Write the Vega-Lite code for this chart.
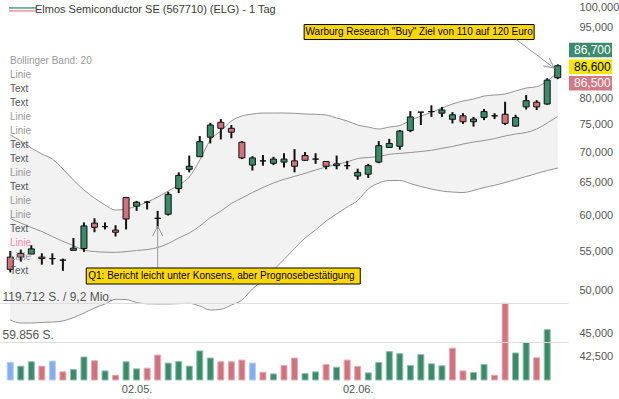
{
  "$schema": "https://vega.github.io/schema/vega-lite/v6.json",
  "width": 568,
  "height": 380,
  "autosize": {"type": "none"},
  "padding": {"left": 0, "top": 0, "right": 51, "bottom": 19},
  "background": "white",
  "config": {
    "font": "Liberation Sans",
    "view": {"stroke": null},
    "locale": {"number": {"decimal": ",", "thousands": ".", "grouping": [3], "currency": ["", " €"]}}
  },
  "title": {
    "text": "Elmos Semiconductor SE (567710) (ELG) - 1 Tag",
    "anchor": "start",
    "frame": "group",
    "offset": -15,
    "dx": 35,
    "fontSize": 11,
    "fontWeight": "normal",
    "color": "#3a3a3a"
  },
  "datasets": {
    "ohlc": [
      {"i":0,"o":54.2,"h":55.0,"l":52.2,"c":52.6,"v":27400,"t":"flat","bbU":73.09,"bbM":59.57,"bbL":46.46},
      {"i":1,"o":54.7,"h":55.2,"l":53.6,"c":54.2,"v":21600,"t":"up","bbU":72.02,"bbM":58.92,"bbL":46.12},
      {"i":2,"o":54.6,"h":55.8,"l":54.6,"c":55.3,"v":28500,"t":"up","bbU":70.80,"bbM":58.27,"bbL":46.12},
      {"i":3,"o":54.2,"h":54.7,"l":53.2,"c":54.0,"v":21600,"t":"down","bbU":69.76,"bbM":57.70,"bbL":46.18},
      {"i":4,"o":54.0,"h":54.7,"l":53.2,"c":54.0,"v":29500,"t":"flat","bbU":68.91,"bbM":57.00,"bbL":46.23},
      {"i":5,"o":53.8,"h":54.0,"l":52.4,"c":53.8,"v":12700,"t":"down","bbU":67.25,"bbM":56.33,"bbL":46.35},
      {"i":6,"o":55.1,"h":56.8,"l":55.1,"c":55.4,"v":16300,"t":"up","bbU":65.46,"bbM":55.75,"bbL":46.74},
      {"i":7,"o":55.35,"h":59.0,"l":54.9,"c":58.5,"v":35900,"t":"up","bbU":63.87,"bbM":55.14,"bbL":47.26},
      {"i":8,"o":58.9,"h":59.6,"l":57.6,"c":58.3,"v":30100,"t":"down","bbU":62.63,"bbM":54.94,"bbL":47.85},
      {"i":9,"o":58.4,"h":59.0,"l":58.0,"c":58.4,"v":14200,"t":"up","bbU":61.57,"bbM":54.85,"bbL":48.32},
      {"i":10,"o":57.9,"h":58.6,"l":57.0,"c":57.6,"v":7400,"t":"down","bbU":60.82,"bbM":54.83,"bbL":48.88},
      {"i":11,"o":62.7,"h":62.8,"l":58.0,"c":59.5,"v":28500,"t":"up","bbU":60.97,"bbM":54.93,"bbL":48.85},
      {"i":12,"o":61.4,"h":62.2,"l":60.7,"c":62.0,"v":17400,"t":"up","bbU":61.42,"bbM":55.08,"bbL":48.49},
      {"i":13,"o":62.0,"h":62.2,"l":60.9,"c":62.0,"v":18500,"t":"down","bbU":62.02,"bbM":55.21,"bbL":48.34},
      {"i":14,"o":59.6,"h":60.7,"l":58.1,"c":59.6,"v":39000,"t":"down","bbU":62.79,"bbM":55.48,"bbL":48.32},
      {"i":15,"o":60.2,"h":63.6,"l":60.0,"c":63.2,"v":26400,"t":"up","bbU":63.72,"bbM":56.03,"bbL":48.32},
      {"i":16,"o":64.1,"h":66.7,"l":63.4,"c":66.2,"v":29000,"t":"up","bbU":64.66,"bbM":56.79,"bbL":48.36},
      {"i":17,"o":67.2,"h":69.5,"l":66.7,"c":67.7,"v":21600,"t":"up","bbU":65.94,"bbM":57.49,"bbL":48.40},
      {"i":18,"o":69.3,"h":72.9,"l":69.3,"c":71.9,"v":45400,"t":"up","bbU":68.75,"bbM":58.48,"bbL":48.08},
      {"i":19,"o":72.7,"h":75.3,"l":71.6,"c":74.9,"v":34300,"t":"up","bbU":72.20,"bbM":59.72,"bbL":47.61},
      {"i":20,"o":75.4,"h":76.0,"l":72.3,"c":74.3,"v":28500,"t":"down","bbU":73.81,"bbM":60.67,"bbL":47.69},
      {"i":21,"o":74.3,"h":74.9,"l":72.5,"c":73.6,"v":28500,"t":"down","bbU":75.64,"bbM":61.80,"bbL":48.20},
      {"i":22,"o":71.8,"h":72.0,"l":68.9,"c":69.1,"v":31100,"t":"down","bbU":76.57,"bbM":62.63,"bbL":48.79},
      {"i":23,"o":67.9,"h":69.4,"l":67.0,"c":69.1,"v":26400,"t":"flat","bbU":76.94,"bbM":63.48,"bbL":50.13},
      {"i":24,"o":68.6,"h":69.6,"l":67.8,"c":68.6,"v":12100,"t":"down","bbU":77.13,"bbM":64.27,"bbL":51.24},
      {"i":25,"o":68.2,"h":69.3,"l":67.9,"c":68.9,"v":9500,"t":"up","bbU":77.13,"bbM":64.98,"bbL":52.51},
      {"i":26,"o":68.4,"h":69.9,"l":67.5,"c":68.9,"v":22700,"t":"down","bbU":77.13,"bbM":65.57,"bbL":53.88},
      {"i":27,"o":68.6,"h":70.6,"l":66.7,"c":67.7,"v":34300,"t":"down","bbU":77.08,"bbM":66.05,"bbL":55.35},
      {"i":28,"o":69.5,"h":70.1,"l":68.6,"c":68.7,"v":10000,"t":"up","bbU":76.94,"bbM":66.54,"bbL":56.79},
      {"i":29,"o":68.9,"h":69.9,"l":68.1,"c":68.9,"v":12700,"t":"up","bbU":76.89,"bbM":67.08,"bbL":57.92},
      {"i":30,"o":68.5,"h":68.5,"l":67.2,"c":67.7,"v":24300,"t":"down","bbU":76.76,"bbM":67.58,"bbL":59.21},
      {"i":31,"o":67.8,"h":69.5,"l":67.2,"c":68.1,"v":20000,"t":"up","bbU":76.19,"bbM":68.02,"bbL":60.23},
      {"i":32,"o":67.8,"h":68.6,"l":67.2,"c":67.8,"v":31100,"t":"down","bbU":75.64,"bbM":68.41,"bbL":61.27},
      {"i":33,"o":66.1,"h":67.3,"l":65.5,"c":66.7,"v":21100,"t":"down","bbU":74.90,"bbM":69.00,"bbL":62.25},
      {"i":34,"o":66.4,"h":68.1,"l":65.8,"c":67.8,"v":11100,"t":"up","bbU":74.53,"bbM":69.17,"bbL":64.03},
      {"i":35,"o":68.4,"h":72.0,"l":68.2,"c":71.2,"v":27400,"t":"up","bbU":74.17,"bbM":69.34,"bbL":64.98},
      {"i":36,"o":70.9,"h":72.4,"l":70.8,"c":71.6,"v":44300,"t":"up","bbU":74.53,"bbM":69.71,"bbL":65.38},
      {"i":37,"o":71.1,"h":74.0,"l":70.5,"c":73.8,"v":41100,"t":"up","bbU":74.81,"bbM":69.87,"bbL":65.38},
      {"i":38,"o":73.9,"h":77.5,"l":73.6,"c":76.4,"v":22700,"t":"up","bbU":75.73,"bbM":70.02,"bbL":64.90},
      {"i":39,"o":77.3,"h":77.3,"l":74.9,"c":77.3,"v":39600,"t":"up","bbU":76.57,"bbM":70.19,"bbL":64.42},
      {"i":40,"o":77.4,"h":78.6,"l":76.4,"c":77.4,"v":25300,"t":"up","bbU":77.23,"bbM":70.40,"bbL":64.03},
      {"i":41,"o":77.1,"h":78.3,"l":76.4,"c":77.7,"v":22200,"t":"up","bbU":78.08,"bbM":70.74,"bbL":63.72},
      {"i":42,"o":75.95,"h":77.3,"l":75.2,"c":76.8,"v":49600,"t":"down","bbU":78.85,"bbM":71.06,"bbL":63.56},
      {"i":43,"o":76.6,"h":77.1,"l":75.1,"c":75.5,"v":14200,"t":"down","bbU":79.43,"bbM":71.49,"bbL":63.48},
      {"i":44,"o":75.5,"h":76.4,"l":74.6,"c":76.0,"v":11600,"t":"up","bbU":79.82,"bbM":71.84,"bbL":63.80},
      {"i":45,"o":76.3,"h":77.9,"l":75.8,"c":77.4,"v":24300,"t":"up","bbU":80.41,"bbM":72.11,"bbL":64.27},
      {"i":46,"o":76.6,"h":77.1,"l":76.0,"c":76.6,"v":7400,"t":"down","bbU":80.61,"bbM":72.45,"bbL":64.61},
      {"i":47,"o":76.9,"h":79.3,"l":74.9,"c":75.2,"v":119712,"t":"down","bbU":80.81,"bbM":72.91,"bbL":65.06},
      {"i":48,"o":74.7,"h":76.8,"l":74.6,"c":76.3,"v":42200,"t":"up","bbU":81.40,"bbM":73.27,"bbL":65.54},
      {"i":49,"o":78.3,"h":80.6,"l":77.8,"c":79.5,"v":58500,"t":"up","bbU":82.00,"bbM":73.54,"bbL":66.02},
      {"i":50,"o":79.2,"h":79.6,"l":77.7,"c":78.3,"v":34800,"t":"down","bbU":82.27,"bbM":74.17,"bbL":66.51},
      {"i":51,"o":78.85,"h":84.0,"l":78.7,"c":83.6,"v":78600,"t":"up","bbU":83.42,"bbM":75.27,"bbL":67.00},
      {"i":52,"o":84.1,"h":86.9,"l":83.8,"c":86.6,"bbU":85.28,"bbM":76.48,"bbL":67.41}
    ],
    "notes": [
      {"k":"w","i":52,"p":86.9,"txt":"Warburg Research \"Buy\" Ziel von 110 auf 120 Euro"},
      {"k":"q","i":14,"p":58.1,"txt":"Q1: Bericht leicht unter Konsens, aber Prognosebestätigung"}
    ],
    "quotes": [
      {"q":"Ask","v":86.7},
      {"q":"Last","v":86.6},
      {"q":"Bid","v":86.5}
    ],
    "legend": [
      {"slot":0,"kind":"head","txt":"Bollinger Band: 20"},
      {"slot":1,"kind":"line","txt":"Linie"},
      {"slot":2,"kind":"text","txt":"Text"},
      {"slot":3,"kind":"text","txt":"Text"},
      {"slot":4,"kind":"line","txt":"Linie"},
      {"slot":5,"kind":"line","txt":"Linie"},
      {"slot":6,"kind":"text","txt":"Text"},
      {"slot":7,"kind":"text","txt":"Text"},
      {"slot":8,"kind":"line","txt":"Linie"},
      {"slot":9,"kind":"text","txt":"Text"},
      {"slot":10,"kind":"line","txt":"Linie"},
      {"slot":11,"kind":"line","txt":"Linie"},
      {"slot":12,"kind":"text","txt":"Text"},
      {"slot":13,"kind":"marker","txt":"Linie"},
      {"slot":14,"kind":"line","txt":"Linie"},
      {"slot":15,"kind":"text","txt":"Text"}
    ],
    "icon": [
      {"series":"Kurs"}
    ]
  },
  "layer": [
    {
      "data": {"name": "ohlc"},
      "layer": [
        {
          "mark": {"type": "area", "fill": "#f2f2f2", "interpolate": "monotone"},
          "encoding": {
            "x": {"field": "i", "type": "quantitative", "scale": {"domain": [-0.5, 52.5], "nice": false, "zero": false},
              "axis": {"values": [12, 33], "labelExpr": "datum.value == 12 ? '02.05.' : '02.06.'", "title": null, "domain": false, "ticks": false, "grid": false, "labelFontSize": 11, "labelColor": "#555555", "labelPadding": 3, "labelFlush": false, "labelOverlap": false}},
            "y": {"field": "bbL", "type": "quantitative", "scale": {"type": "log", "domain": [40.11, 101.73], "nice": false, "zero": false},
              "axis": {"orient": "right", "values": [42.5, 45, 50, 55, 60, 65, 70, 75, 80, 95, 100], "format": ".3f", "title": null, "domain": false, "ticks": false, "grid": false, "labelAlign": "left", "labelPadding": 11, "labelFontSize": 11, "labelColor": "#555555", "labelOverlap": false, "labelBound": false, "labelFlush": false}},
            "y2": {"field": "bbU"}
          }
        },
        {
          "mark": {"type": "line", "stroke": "#939393", "strokeWidth": 1, "interpolate": "monotone"},
          "encoding": {
            "x": {"field": "i", "type": "quantitative", "scale": {"domain": [-0.5, 52.5], "nice": false, "zero": false},
              "axis": {"values": [12, 33], "labelExpr": "datum.value == 12 ? '02.05.' : '02.06.'", "title": null, "domain": false, "ticks": false, "grid": false, "labelFontSize": 11, "labelColor": "#555555", "labelPadding": 3, "labelFlush": false, "labelOverlap": false}},
            "y": {"field": "bbU", "type": "quantitative", "scale": {"type": "log", "domain": [40.11, 101.73], "nice": false, "zero": false},
              "axis": {"orient": "right", "values": [42.5, 45, 50, 55, 60, 65, 70, 75, 80, 95, 100], "format": ".3f", "title": null, "domain": false, "ticks": false, "grid": false, "labelAlign": "left", "labelPadding": 11, "labelFontSize": 11, "labelColor": "#555555", "labelOverlap": false, "labelBound": false, "labelFlush": false}}
          }
        },
        {
          "mark": {"type": "line", "stroke": "#939393", "strokeWidth": 1, "interpolate": "monotone"},
          "encoding": {
            "x": {"field": "i", "type": "quantitative", "scale": {"domain": [-0.5, 52.5], "nice": false, "zero": false},
              "axis": {"values": [12, 33], "labelExpr": "datum.value == 12 ? '02.05.' : '02.06.'", "title": null, "domain": false, "ticks": false, "grid": false, "labelFontSize": 11, "labelColor": "#555555", "labelPadding": 3, "labelFlush": false, "labelOverlap": false}},
            "y": {"field": "bbM", "type": "quantitative", "scale": {"type": "log", "domain": [40.11, 101.73], "nice": false, "zero": false},
              "axis": {"orient": "right", "values": [42.5, 45, 50, 55, 60, 65, 70, 75, 80, 95, 100], "format": ".3f", "title": null, "domain": false, "ticks": false, "grid": false, "labelAlign": "left", "labelPadding": 11, "labelFontSize": 11, "labelColor": "#555555", "labelOverlap": false, "labelBound": false, "labelFlush": false}}
          }
        },
        {
          "mark": {"type": "line", "stroke": "#939393", "strokeWidth": 1, "interpolate": "monotone"},
          "encoding": {
            "x": {"field": "i", "type": "quantitative", "scale": {"domain": [-0.5, 52.5], "nice": false, "zero": false},
              "axis": {"values": [12, 33], "labelExpr": "datum.value == 12 ? '02.05.' : '02.06.'", "title": null, "domain": false, "ticks": false, "grid": false, "labelFontSize": 11, "labelColor": "#555555", "labelPadding": 3, "labelFlush": false, "labelOverlap": false}},
            "y": {"field": "bbL", "type": "quantitative", "scale": {"type": "log", "domain": [40.11, 101.73], "nice": false, "zero": false},
              "axis": {"orient": "right", "values": [42.5, 45, 50, 55, 60, 65, 70, 75, 80, 95, 100], "format": ".3f", "title": null, "domain": false, "ticks": false, "grid": false, "labelAlign": "left", "labelPadding": 11, "labelFontSize": 11, "labelColor": "#555555", "labelOverlap": false, "labelBound": false, "labelFlush": false}}
          }
        },
        {
          "mark": {"type": "rule", "stroke": "#111111", "strokeWidth": 2},
          "encoding": {
            "x": {"field": "i", "type": "quantitative", "scale": {"domain": [-0.5, 52.5], "nice": false, "zero": false},
              "axis": {"values": [12, 33], "labelExpr": "datum.value == 12 ? '02.05.' : '02.06.'", "title": null, "domain": false, "ticks": false, "grid": false, "labelFontSize": 11, "labelColor": "#555555", "labelPadding": 3, "labelFlush": false, "labelOverlap": false}},
            "y": {"field": "l", "type": "quantitative", "scale": {"type": "log", "domain": [40.11, 101.73], "nice": false, "zero": false},
              "axis": {"orient": "right", "values": [42.5, 45, 50, 55, 60, 65, 70, 75, 80, 95, 100], "format": ".3f", "title": null, "domain": false, "ticks": false, "grid": false, "labelAlign": "left", "labelPadding": 11, "labelFontSize": 11, "labelColor": "#555555", "labelOverlap": false, "labelBound": false, "labelFlush": false}},
            "y2": {"field": "h"}
          }
        },
        {
          "mark": {"type": "bar", "width": 6, "stroke": "#111111", "strokeWidth": 1},
          "encoding": {
            "x": {"field": "i", "type": "quantitative", "scale": {"domain": [-0.5, 52.5], "nice": false, "zero": false},
              "axis": {"values": [12, 33], "labelExpr": "datum.value == 12 ? '02.05.' : '02.06.'", "title": null, "domain": false, "ticks": false, "grid": false, "labelFontSize": 11, "labelColor": "#555555", "labelPadding": 3, "labelFlush": false, "labelOverlap": false}},
            "y": {"field": "o", "type": "quantitative", "scale": {"type": "log", "domain": [40.11, 101.73], "nice": false, "zero": false},
              "axis": {"orient": "right", "values": [42.5, 45, 50, 55, 60, 65, 70, 75, 80, 95, 100], "format": ".3f", "title": null, "domain": false, "ticks": false, "grid": false, "labelAlign": "left", "labelPadding": 11, "labelFontSize": 11, "labelColor": "#555555", "labelOverlap": false, "labelBound": false, "labelFlush": false}},
            "y2": {"field": "c"},
            "fill": {"condition": {"test": "datum.c >= datum.o", "value": "#3b8a6c"}, "value": "#d0737f"}
          }
        },
        {
          "data": {"name": "notes"},
          "transform": [{"filter": "datum.k == 'w'"}],
          "layer": [
            {
              "mark": {"type": "rect", "fill": "#ffd800", "stroke": "#000000", "strokeWidth": 1, "xOffset": -253.6, "x2Offset": -23.6, "yOffset": -39.8, "y2Offset": -24.8},
              "encoding": {
                "x": {"field": "i", "type": "quantitative", "scale": {"domain": [-0.5, 52.5], "nice": false, "zero": false},
                  "axis": {"values": [12, 33], "labelExpr": "datum.value == 12 ? '02.05.' : '02.06.'", "title": null, "domain": false, "ticks": false, "grid": false, "labelFontSize": 11, "labelColor": "#555555", "labelPadding": 3, "labelFlush": false, "labelOverlap": false}},
                "x2": {"field": "i"},
                "y": {"field": "p", "type": "quantitative", "scale": {"type": "log", "domain": [40.11, 101.73], "nice": false, "zero": false},
                  "axis": {"orient": "right", "values": [42.5, 45, 50, 55, 60, 65, 70, 75, 80, 95, 100], "format": ".3f", "title": null, "domain": false, "ticks": false, "grid": false, "labelAlign": "left", "labelPadding": 11, "labelFontSize": 11, "labelColor": "#555555", "labelOverlap": false, "labelBound": false, "labelFlush": false}},
                "y2": {"field": "p"}
              }
            },
            {
              "mark": {"type": "text", "align": "center", "baseline": "middle", "dx": -138.6, "dy": -32.3, "fontSize": 10, "fill": "#000000"},
              "encoding": {
                "x": {"field": "i", "type": "quantitative", "scale": {"domain": [-0.5, 52.5], "nice": false, "zero": false},
                  "axis": {"values": [12, 33], "labelExpr": "datum.value == 12 ? '02.05.' : '02.06.'", "title": null, "domain": false, "ticks": false, "grid": false, "labelFontSize": 11, "labelColor": "#555555", "labelPadding": 3, "labelFlush": false, "labelOverlap": false}},
                "y": {"field": "p", "type": "quantitative", "scale": {"type": "log", "domain": [40.11, 101.73], "nice": false, "zero": false},
                  "axis": {"orient": "right", "values": [42.5, 45, 50, 55, 60, 65, 70, 75, 80, 95, 100], "format": ".3f", "title": null, "domain": false, "ticks": false, "grid": false, "labelAlign": "left", "labelPadding": 11, "labelFontSize": 11, "labelColor": "#555555", "labelOverlap": false, "labelBound": false, "labelFlush": false}},
                "text": {"field": "txt"}
              }
            },
            {
              "mark": {"type": "rule", "stroke": "#999999", "strokeWidth": 1, "xOffset": -41.6, "yOffset": -24.8, "x2Offset": -3.6, "y2Offset": 3.7},
              "encoding": {
                "x": {"field": "i", "type": "quantitative", "scale": {"domain": [-0.5, 52.5], "nice": false, "zero": false},
                  "axis": {"values": [12, 33], "labelExpr": "datum.value == 12 ? '02.05.' : '02.06.'", "title": null, "domain": false, "ticks": false, "grid": false, "labelFontSize": 11, "labelColor": "#555555", "labelPadding": 3, "labelFlush": false, "labelOverlap": false}},
                "x2": {"field": "i"},
                "y": {"field": "p", "type": "quantitative", "scale": {"type": "log", "domain": [40.11, 101.73], "nice": false, "zero": false},
                  "axis": {"orient": "right", "values": [42.5, 45, 50, 55, 60, 65, 70, 75, 80, 95, 100], "format": ".3f", "title": null, "domain": false, "ticks": false, "grid": false, "labelAlign": "left", "labelPadding": 11, "labelFontSize": 11, "labelColor": "#555555", "labelOverlap": false, "labelBound": false, "labelFlush": false}},
                "y2": {"field": "p"}
              }
            },
            {
              "mark": {"type": "point", "shape": "M-1,1L0,-1L1,1", "filled": false, "size": 100, "angle": 127, "stroke": "#999999", "strokeWidth": 1, "opacity": 1, "xOffset": -7.6, "yOffset": 0.7},
              "encoding": {
                "x": {"field": "i", "type": "quantitative", "scale": {"domain": [-0.5, 52.5], "nice": false, "zero": false},
                  "axis": {"values": [12, 33], "labelExpr": "datum.value == 12 ? '02.05.' : '02.06.'", "title": null, "domain": false, "ticks": false, "grid": false, "labelFontSize": 11, "labelColor": "#555555", "labelPadding": 3, "labelFlush": false, "labelOverlap": false}},
                "y": {"field": "p", "type": "quantitative", "scale": {"type": "log", "domain": [40.11, 101.73], "nice": false, "zero": false},
                  "axis": {"orient": "right", "values": [42.5, 45, 50, 55, 60, 65, 70, 75, 80, 95, 100], "format": ".3f", "title": null, "domain": false, "ticks": false, "grid": false, "labelAlign": "left", "labelPadding": 11, "labelFontSize": 11, "labelColor": "#555555", "labelOverlap": false, "labelBound": false, "labelFlush": false}}
              }
            }
          ]
        },
        {
          "data": {"name": "notes"},
          "transform": [{"filter": "datum.k == 'q'"}],
          "layer": [
            {
              "mark": {"type": "rule", "stroke": "#999999", "strokeWidth": 1, "yOffset": 39.3, "y2Offset": -2.7},
              "encoding": {
                "x": {"field": "i", "type": "quantitative", "scale": {"domain": [-0.5, 52.5], "nice": false, "zero": false},
                  "axis": {"values": [12, 33], "labelExpr": "datum.value == 12 ? '02.05.' : '02.06.'", "title": null, "domain": false, "ticks": false, "grid": false, "labelFontSize": 11, "labelColor": "#555555", "labelPadding": 3, "labelFlush": false, "labelOverlap": false}},
                "y": {"field": "p", "type": "quantitative", "scale": {"type": "log", "domain": [40.11, 101.73], "nice": false, "zero": false},
                  "axis": {"orient": "right", "values": [42.5, 45, 50, 55, 60, 65, 70, 75, 80, 95, 100], "format": ".3f", "title": null, "domain": false, "ticks": false, "grid": false, "labelAlign": "left", "labelPadding": 11, "labelFontSize": 11, "labelColor": "#555555", "labelOverlap": false, "labelBound": false, "labelFlush": false}},
                "y2": {"field": "p"}
              }
            },
            {
              "mark": {"type": "point", "shape": "M-1,1L0,-1L1,1", "filled": false, "size": 100, "angle": 0, "stroke": "#999999", "strokeWidth": 1, "opacity": 1, "yOffset": 2.3},
              "encoding": {
                "x": {"field": "i", "type": "quantitative", "scale": {"domain": [-0.5, 52.5], "nice": false, "zero": false},
                  "axis": {"values": [12, 33], "labelExpr": "datum.value == 12 ? '02.05.' : '02.06.'", "title": null, "domain": false, "ticks": false, "grid": false, "labelFontSize": 11, "labelColor": "#555555", "labelPadding": 3, "labelFlush": false, "labelOverlap": false}},
                "y": {"field": "p", "type": "quantitative", "scale": {"type": "log", "domain": [40.11, 101.73], "nice": false, "zero": false},
                  "axis": {"orient": "right", "values": [42.5, 45, 50, 55, 60, 65, 70, 75, 80, 95, 100], "format": ".3f", "title": null, "domain": false, "ticks": false, "grid": false, "labelAlign": "left", "labelPadding": 11, "labelFontSize": 11, "labelColor": "#555555", "labelOverlap": false, "labelBound": false, "labelFlush": false}}
              }
            },
            {
              "mark": {"type": "rect", "fill": "#ffd800", "stroke": "#000000", "strokeWidth": 1, "xOffset": -71.4, "x2Offset": 202.6, "yOffset": 39.3, "y2Offset": 55.3},
              "encoding": {
                "x": {"field": "i", "type": "quantitative", "scale": {"domain": [-0.5, 52.5], "nice": false, "zero": false},
                  "axis": {"values": [12, 33], "labelExpr": "datum.value == 12 ? '02.05.' : '02.06.'", "title": null, "domain": false, "ticks": false, "grid": false, "labelFontSize": 11, "labelColor": "#555555", "labelPadding": 3, "labelFlush": false, "labelOverlap": false}},
                "x2": {"field": "i"},
                "y": {"field": "p", "type": "quantitative", "scale": {"type": "log", "domain": [40.11, 101.73], "nice": false, "zero": false},
                  "axis": {"orient": "right", "values": [42.5, 45, 50, 55, 60, 65, 70, 75, 80, 95, 100], "format": ".3f", "title": null, "domain": false, "ticks": false, "grid": false, "labelAlign": "left", "labelPadding": 11, "labelFontSize": 11, "labelColor": "#555555", "labelOverlap": false, "labelBound": false, "labelFlush": false}},
                "y2": {"field": "p"}
              }
            },
            {
              "mark": {"type": "text", "align": "left", "baseline": "middle", "dx": -69.4, "dy": 47.3, "fontSize": 10, "fill": "#000000"},
              "encoding": {
                "x": {"field": "i", "type": "quantitative", "scale": {"domain": [-0.5, 52.5], "nice": false, "zero": false},
                  "axis": {"values": [12, 33], "labelExpr": "datum.value == 12 ? '02.05.' : '02.06.'", "title": null, "domain": false, "ticks": false, "grid": false, "labelFontSize": 11, "labelColor": "#555555", "labelPadding": 3, "labelFlush": false, "labelOverlap": false}},
                "y": {"field": "p", "type": "quantitative", "scale": {"type": "log", "domain": [40.11, 101.73], "nice": false, "zero": false},
                  "axis": {"orient": "right", "values": [42.5, 45, 50, 55, 60, 65, 70, 75, 80, 95, 100], "format": ".3f", "title": null, "domain": false, "ticks": false, "grid": false, "labelAlign": "left", "labelPadding": 11, "labelFontSize": 11, "labelColor": "#555555", "labelOverlap": false, "labelBound": false, "labelFlush": false}},
                "text": {"field": "txt"}
              }
            }
          ]
        },
        {
          "data": {"name": "quotes"},
          "layer": [
            {
              "transform": [{"filter": "datum.q == 'Ask'"}],
              "mark": {"type": "rect", "fill": "#3d8b6e", "xOffset": 6, "x2Offset": 49, "yOffset": -22.6, "y2Offset": -8.0},
              "encoding": {
                "x": {"datum": 52.5, "type": "quantitative", "scale": {"domain": [-0.5, 52.5], "nice": false, "zero": false},
                  "axis": {"values": [12, 33], "labelExpr": "datum.value == 12 ? '02.05.' : '02.06.'", "title": null, "domain": false, "ticks": false, "grid": false, "labelFontSize": 11, "labelColor": "#555555", "labelPadding": 3, "labelFlush": false, "labelOverlap": false}},
                "x2": {"datum": 52.5},
                "y": {"field": "v", "type": "quantitative", "scale": {"type": "log", "domain": [40.11, 101.73], "nice": false, "zero": false},
                  "axis": {"orient": "right", "values": [42.5, 45, 50, 55, 60, 65, 70, 75, 80, 95, 100], "format": ".3f", "title": null, "domain": false, "ticks": false, "grid": false, "labelAlign": "left", "labelPadding": 11, "labelFontSize": 11, "labelColor": "#555555", "labelOverlap": false, "labelBound": false, "labelFlush": false}},
                "y2": {"field": "v"}
              }
            },
            {
              "transform": [{"filter": "datum.q == 'Last'"}],
              "mark": {"type": "rect", "fill": "#f3e600", "xOffset": 6, "x2Offset": 49, "yOffset": -6.3, "y2Offset": 8.3},
              "encoding": {
                "x": {"datum": 52.5, "type": "quantitative", "scale": {"domain": [-0.5, 52.5], "nice": false, "zero": false},
                  "axis": {"values": [12, 33], "labelExpr": "datum.value == 12 ? '02.05.' : '02.06.'", "title": null, "domain": false, "ticks": false, "grid": false, "labelFontSize": 11, "labelColor": "#555555", "labelPadding": 3, "labelFlush": false, "labelOverlap": false}},
                "x2": {"datum": 52.5},
                "y": {"field": "v", "type": "quantitative", "scale": {"type": "log", "domain": [40.11, 101.73], "nice": false, "zero": false},
                  "axis": {"orient": "right", "values": [42.5, 45, 50, 55, 60, 65, 70, 75, 80, 95, 100], "format": ".3f", "title": null, "domain": false, "ticks": false, "grid": false, "labelAlign": "left", "labelPadding": 11, "labelFontSize": 11, "labelColor": "#555555", "labelOverlap": false, "labelBound": false, "labelFlush": false}},
                "y2": {"field": "v"}
              }
            },
            {
              "transform": [{"filter": "datum.q == 'Bid'"}],
              "mark": {"type": "rect", "fill": "#d27984", "xOffset": 6, "x2Offset": 49, "yOffset": 9.8, "y2Offset": 24.4},
              "encoding": {
                "x": {"datum": 52.5, "type": "quantitative", "scale": {"domain": [-0.5, 52.5], "nice": false, "zero": false},
                  "axis": {"values": [12, 33], "labelExpr": "datum.value == 12 ? '02.05.' : '02.06.'", "title": null, "domain": false, "ticks": false, "grid": false, "labelFontSize": 11, "labelColor": "#555555", "labelPadding": 3, "labelFlush": false, "labelOverlap": false}},
                "x2": {"datum": 52.5},
                "y": {"field": "v", "type": "quantitative", "scale": {"type": "log", "domain": [40.11, 101.73], "nice": false, "zero": false},
                  "axis": {"orient": "right", "values": [42.5, 45, 50, 55, 60, 65, 70, 75, 80, 95, 100], "format": ".3f", "title": null, "domain": false, "ticks": false, "grid": false, "labelAlign": "left", "labelPadding": 11, "labelFontSize": 11, "labelColor": "#555555", "labelOverlap": false, "labelBound": false, "labelFlush": false}},
                "y2": {"field": "v"}
              }
            },
            {
              "transform": [{"filter": "datum.q == 'Ask'"}],
              "mark": {"type": "text", "align": "left", "baseline": "middle", "dx": 11, "dy": -15.3, "fontSize": 12, "fill": "#ffffff"},
              "encoding": {
                "x": {"datum": 52.5, "type": "quantitative", "scale": {"domain": [-0.5, 52.5], "nice": false, "zero": false},
                  "axis": {"values": [12, 33], "labelExpr": "datum.value == 12 ? '02.05.' : '02.06.'", "title": null, "domain": false, "ticks": false, "grid": false, "labelFontSize": 11, "labelColor": "#555555", "labelPadding": 3, "labelFlush": false, "labelOverlap": false}},
                "y": {"field": "v", "type": "quantitative", "scale": {"type": "log", "domain": [40.11, 101.73], "nice": false, "zero": false},
                  "axis": {"orient": "right", "values": [42.5, 45, 50, 55, 60, 65, 70, 75, 80, 95, 100], "format": ".3f", "title": null, "domain": false, "ticks": false, "grid": false, "labelAlign": "left", "labelPadding": 11, "labelFontSize": 11, "labelColor": "#555555", "labelOverlap": false, "labelBound": false, "labelFlush": false}},
                "text": {"field": "v", "type": "quantitative", "format": ".3f"}
              }
            },
            {
              "transform": [{"filter": "datum.q == 'Last'"}],
              "mark": {"type": "text", "align": "left", "baseline": "middle", "dx": 11, "dy": 1.0, "fontSize": 12, "fill": "#000000"},
              "encoding": {
                "x": {"datum": 52.5, "type": "quantitative", "scale": {"domain": [-0.5, 52.5], "nice": false, "zero": false},
                  "axis": {"values": [12, 33], "labelExpr": "datum.value == 12 ? '02.05.' : '02.06.'", "title": null, "domain": false, "ticks": false, "grid": false, "labelFontSize": 11, "labelColor": "#555555", "labelPadding": 3, "labelFlush": false, "labelOverlap": false}},
                "y": {"field": "v", "type": "quantitative", "scale": {"type": "log", "domain": [40.11, 101.73], "nice": false, "zero": false},
                  "axis": {"orient": "right", "values": [42.5, 45, 50, 55, 60, 65, 70, 75, 80, 95, 100], "format": ".3f", "title": null, "domain": false, "ticks": false, "grid": false, "labelAlign": "left", "labelPadding": 11, "labelFontSize": 11, "labelColor": "#555555", "labelOverlap": false, "labelBound": false, "labelFlush": false}},
                "text": {"field": "v", "type": "quantitative", "format": ".3f"}
              }
            },
            {
              "transform": [{"filter": "datum.q == 'Bid'"}],
              "mark": {"type": "text", "align": "left", "baseline": "middle", "dx": 11, "dy": 17.1, "fontSize": 12, "fill": "#ffffff"},
              "encoding": {
                "x": {"datum": 52.5, "type": "quantitative", "scale": {"domain": [-0.5, 52.5], "nice": false, "zero": false},
                  "axis": {"values": [12, 33], "labelExpr": "datum.value == 12 ? '02.05.' : '02.06.'", "title": null, "domain": false, "ticks": false, "grid": false, "labelFontSize": 11, "labelColor": "#555555", "labelPadding": 3, "labelFlush": false, "labelOverlap": false}},
                "y": {"field": "v", "type": "quantitative", "scale": {"type": "log", "domain": [40.11, 101.73], "nice": false, "zero": false},
                  "axis": {"orient": "right", "values": [42.5, 45, 50, 55, 60, 65, 70, 75, 80, 95, 100], "format": ".3f", "title": null, "domain": false, "ticks": false, "grid": false, "labelAlign": "left", "labelPadding": 11, "labelFontSize": 11, "labelColor": "#555555", "labelOverlap": false, "labelBound": false, "labelFlush": false}},
                "text": {"field": "v", "type": "quantitative", "format": ".3f"}
              }
            }
          ]
        }
      ]
    },
    {
      "data": {"name": "ohlc"},
      "transform": [{"filter": "isValid(datum.v)"}],
      "mark": {"type": "bar", "width": 6, "strokeWidth": 1},
      "encoding": {
        "x": {"field": "i", "type": "quantitative", "scale": {"domain": [-0.5, 52.5], "nice": false, "zero": false},
          "axis": {"values": [12, 33], "labelExpr": "datum.value == 12 ? '02.05.' : '02.06.'", "title": null, "domain": false, "ticks": false, "grid": false, "labelFontSize": 11, "labelColor": "#555555", "labelPadding": 3, "labelFlush": false, "labelOverlap": false}},
        "y": {"field": "v", "type": "quantitative", "scale": {"domain": [0, 593000], "nice": false},
          "axis": {"orient": "left", "values": [59856, 119712], "title": null, "domain": false, "ticks": false, "tickSize": 0, "grid": true, "gridColor": "#dddddd", "labelAlign": "left", "labelBaseline": "bottom", "labelPadding": -2, "labelFontSize": 12, "labelColor": "#555555", "labelBound": false, "labelOverlap": false, "zindex": 1,
            "labelExpr": "format(datum.value, ',') + ' S.' + (datum.value > 100000 ? ' / 9,2 Mio.' : '')"}},
        "fill": {"field": "t", "type": "nominal", "scale": {"domain": ["up", "down", "flat"], "range": ["#3b8a6c", "#d0737f", "#84aef0"]}, "legend": null},
        "stroke": {"field": "t", "type": "nominal", "scale": {"domain": ["up", "down", "flat"], "range": ["#8fc2ab", "#e8adb4", "#b4cdf5"]}, "legend": null}
      }
    },
    {
      "layer": [
        {
          "data": {"name": "legend"},
          "mark": {"type": "text", "align": "left", "baseline": "middle", "dx": 5, "fontSize": 10},
          "encoding": {
            "x": {"datum": -0.5, "type": "quantitative", "scale": {"domain": [-0.5, 52.5], "nice": false, "zero": false},
              "axis": {"values": [12, 33], "labelExpr": "datum.value == 12 ? '02.05.' : '02.06.'", "title": null, "domain": false, "ticks": false, "grid": false, "labelFontSize": 11, "labelColor": "#555555", "labelPadding": 3, "labelFlush": false, "labelOverlap": false}},
            "y": {"field": "slot", "type": "quantitative", "scale": {"domain": [-4.357, 22.786], "reverse": true, "nice": false, "zero": false}, "axis": null},
            "text": {"field": "txt"},
            "color": {"field": "kind", "type": "nominal", "scale": {"domain": ["head", "line", "text", "marker"], "range": ["#999999", "#999999", "#555555", "#f48fb1"]}, "legend": null}
          }
        },
        {
          "data": {"name": "icon"},
          "mark": {"type": "rule", "stroke": "#3b8a6c", "strokeWidth": 1.3, "xOffset": 4, "x2Offset": 31},
          "encoding": {
            "x": {"datum": -0.5, "type": "quantitative", "scale": {"domain": [-0.5, 52.5], "nice": false, "zero": false},
              "axis": {"values": [12, 33], "labelExpr": "datum.value == 12 ? '02.05.' : '02.06.'", "title": null, "domain": false, "ticks": false, "grid": false, "labelFontSize": 11, "labelColor": "#555555", "labelPadding": 3, "labelFlush": false, "labelOverlap": false}},
            "x2": {"datum": -0.5},
            "y": {"datum": -3.79, "type": "quantitative", "scale": {"domain": [-4.357, 22.786], "reverse": true, "nice": false, "zero": false}, "axis": null}
          }
        },
        {
          "data": {"name": "icon"},
          "mark": {"type": "rule", "stroke": "#e08a92", "strokeWidth": 1.3, "xOffset": 4, "x2Offset": 31},
          "encoding": {
            "x": {"datum": -0.5, "type": "quantitative", "scale": {"domain": [-0.5, 52.5], "nice": false, "zero": false},
              "axis": {"values": [12, 33], "labelExpr": "datum.value == 12 ? '02.05.' : '02.06.'", "title": null, "domain": false, "ticks": false, "grid": false, "labelFontSize": 11, "labelColor": "#555555", "labelPadding": 3, "labelFlush": false, "labelOverlap": false}},
            "x2": {"datum": -0.5},
            "y": {"datum": -3.58, "type": "quantitative", "scale": {"domain": [-4.357, 22.786], "reverse": true, "nice": false, "zero": false}, "axis": null}
          }
        }
      ]
    }
  ],
  "resolve": {"scale": {"y": "independent"}}
}
